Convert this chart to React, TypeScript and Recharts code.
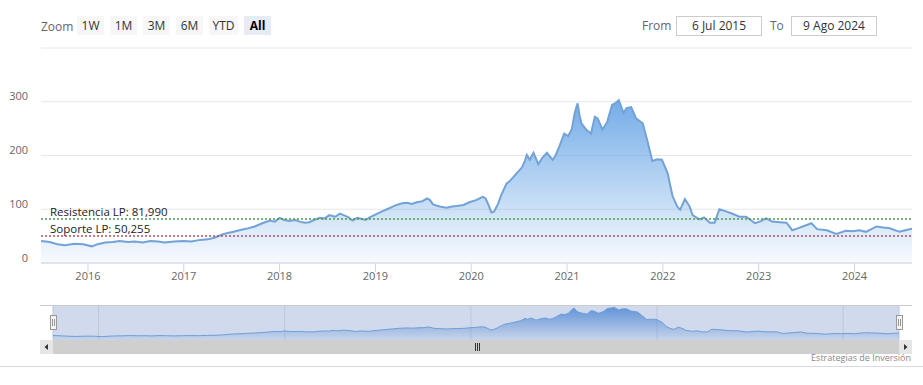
import { AreaChart, Area, XAxis, YAxis, CartesianGrid, ReferenceLine } from "recharts";

// fecha (año decimal) y cotización
const years = [
  2015.51, 2015.6, 2015.68, 2015.76, 2015.86, 2015.95, 2016.04, 2016.1, 2016.18, 2016.26,
  2016.33, 2016.42, 2016.49, 2016.57, 2016.65, 2016.73, 2016.8, 2016.9, 2017.0, 2017.08,
  2017.17, 2017.25, 2017.32, 2017.4, 2017.46, 2017.52, 2017.58, 2017.66, 2017.74, 2017.82,
  2017.9, 2017.95, 2018.0, 2018.05, 2018.1, 2018.16, 2018.21, 2018.26, 2018.31, 2018.36,
  2018.42, 2018.47, 2018.52, 2018.58, 2018.63, 2018.68, 2018.72, 2018.76, 2018.81, 2018.86,
  2018.9, 2018.94, 2019.01, 2019.07, 2019.12, 2019.17, 2019.22, 2019.28, 2019.33, 2019.38,
  2019.43, 2019.49, 2019.54, 2019.57, 2019.6, 2019.67, 2019.74, 2019.8, 2019.85, 2019.92,
  2019.98, 2020.05, 2020.12, 2020.15, 2020.18, 2020.21, 2020.24, 2020.28, 2020.31, 2020.34,
  2020.37, 2020.4, 2020.43, 2020.48, 2020.53, 2020.56, 2020.58, 2020.61, 2020.65, 2020.7,
  2020.74, 2020.79, 2020.85, 2020.88, 2020.92, 2020.97, 2021.01, 2021.05, 2021.08, 2021.11,
  2021.13, 2021.15, 2021.2, 2021.25, 2021.29, 2021.32, 2021.37, 2021.42, 2021.47, 2021.51,
  2021.54, 2021.59, 2021.62, 2021.67, 2021.72, 2021.79, 2021.84, 2021.89, 2021.94, 2021.99,
  2022.05, 2022.1, 2022.15, 2022.18, 2022.23, 2022.28, 2022.31, 2022.38, 2022.43, 2022.49,
  2022.54, 2022.59, 2022.66, 2022.72, 2022.8, 2022.87, 2022.96, 2023.01, 2023.08, 2023.14,
  2023.22, 2023.29, 2023.35, 2023.4, 2023.46, 2023.55, 2023.61, 2023.71, 2023.81, 2023.91,
  2023.98, 2024.05, 2024.12, 2024.23, 2024.3, 2024.36, 2024.47, 2024.53, 2024.6,
];

const prices = [
  41, 39, 35, 33, 36, 35, 31, 35, 38, 39,
  41, 39, 40, 38, 41, 40, 38, 40, 41, 40,
  43, 44, 47, 53, 56, 58, 61, 64, 68, 74,
  79, 77, 84, 80, 78, 80, 77, 75, 76, 80,
  84, 83, 89, 86, 92, 88, 85, 79, 84, 82,
  80, 85, 91, 96, 100, 104, 108, 111, 112, 110,
  113, 115, 120, 117, 109, 105, 103, 105, 106, 108,
  113, 117, 123, 120, 108, 94, 96, 110, 125, 137,
  148, 152, 158, 168, 178, 190, 201, 192, 205, 184,
  195, 205, 192, 200, 217, 241, 236, 249, 279, 297,
  275, 260, 248, 241, 272, 269, 248, 263, 294, 298,
  303, 279, 288, 290, 269, 260, 226, 190, 193, 192,
  167, 125, 105, 99, 119, 105, 89, 81, 85, 75,
  75, 100, 96, 92, 86, 86, 74, 77, 83, 77,
  76, 75, 61, 64, 68, 74, 63, 61, 54, 60,
  59, 61, 58, 68, 66, 65, 58, 61, 64,
];

const yearTicks = [2016, 2017, 2018, 2019, 2020, 2021, 2022, 2023, 2024];
const navTicks = [2016, 2018, 2020, 2022, 2024];
const priceTicks = [0, 100, 200, 300, 400];
const resistance = 81.99;
const support = 50.255;
const zoomButtons = ["1W", "1M", "3M", "6M", "YTD", "All"];
const fromDate = "6 Jul 2015";
const toDate = "9 Ago 2024";

const data = years.map((t, i) => ({ t, price: prices[i] }));
const font = '"Open Sans", sans-serif';
const fmt = (v: number) => v.toFixed(3).replace(".", ",");

const YTick = ({ y, payload }: any) => {
  if (payload.value === 400) return <g />;
  return (
    <text x={28} y={y - 1.5} textAnchor="end" fill="#666" fontSize={11} fontFamily={font}>
      {payload.value}
    </text>
  );
};

const XTick = ({ x, y, payload }: any) => (
  <text x={x} y={y + 6} textAnchor="middle" fill="#666" fontSize={11} fontFamily={font}>
    {payload.value}
  </text>
);

const NavTick = ({ x, payload }: any) => (
  <text x={x + 3} y={32} textAnchor="start" fill="#8a8a8a" fontSize={11} fontFamily={font}>
    {payload.value}
  </text>
);

const LineLabel = ({ viewBox, text }: any) => (
  <text x={viewBox.x + 9} y={viewBox.y - 3} fill="#222" fontSize={11.5} fontFamily={font}>
    {text}
  </text>
);

const btn = (label: string) => ({
  width: label === "YTD" ? 29 : 27,
  height: 19,
  lineHeight: "19px",
  textAlign: "center" as const,
  fontSize: 12,
  background: label === "All" ? "#e6ebf5" : "#f7f7f7",
  color: label === "All" ? "#000" : "#333",
  fontWeight: label === "All" ? 700 : 400,
});

const dateBox = {
  position: "absolute" as const,
  top: 16,
  width: 84,
  height: 18,
  lineHeight: "18px",
  border: "1px solid #cccccc",
  textAlign: "center" as const,
  fontSize: 12,
  color: "#333",
};

export default function App() {
  return (
    <div
      style={{
        position: "absolute",
        left: 0,
        top: 0,
        width: 923,
        height: 385,
        background: "#fff",
        fontFamily: font,
        overflow: "hidden",
      }}
    >
      {/* selector de rango */}
      <div style={{ position: "absolute", left: 41, top: 17, fontSize: 12, color: "#666", lineHeight: "19px" }}>
        Zoom
      </div>
      <div style={{ position: "absolute", left: 77, top: 16, display: "flex", gap: 6 }}>
        {zoomButtons.map((b) => (
          <div key={b} style={btn(b)}>
            {b}
          </div>
        ))}
      </div>
      <div style={{ position: "absolute", left: 642, top: 16, fontSize: 12, color: "#666", lineHeight: "19px" }}>
        From
      </div>
      <div style={{ ...dateBox, left: 676 }}>{fromDate}</div>
      <div style={{ position: "absolute", left: 770, top: 16, fontSize: 12, color: "#666", lineHeight: "19px" }}>
        To
      </div>
      <div style={{ ...dateBox, left: 791 }}>{toDate}</div>

      {/* gráfico principal */}
      <div style={{ position: "absolute", left: 0, top: 0 }}>
        <AreaChart width={923} height={290} data={data} margin={{ top: 48, right: 11, left: 0, bottom: 2 }}>
          <defs>
            <linearGradient id="mainFill" x1="0" y1="0" x2="0" y2="1">
              <stop offset="0%" stopColor="#74ace8" stopOpacity={1} />
              <stop offset="100%" stopColor="#74ace8" stopOpacity={0.05} />
            </linearGradient>
          </defs>
          <CartesianGrid vertical={false} stroke="#e6e6e6" />
          <XAxis
            dataKey="t"
            type="number"
            domain={[2015.51, 2024.6]}
            allowDataOverflow
            ticks={yearTicks}
            interval={0}
            height={25}
            stroke="#ccd6eb"
            tickSize={9}
            tickMargin={2}
            tick={<XTick />}
          />
          <YAxis
            domain={[0, 400]}
            ticks={priceTicks}
            interval={0}
            width={41}
            axisLine={false}
            tickLine={false}
            tick={<YTick />}
          />
          <Area
            type="linear"
            dataKey="price"
            stroke="#72a2d6"
            strokeWidth={2}
            fill="url(#mainFill)"
            fillOpacity={1}
            isAnimationActive={false}
            dot={false}
            activeDot={false}
          />
          <ReferenceLine
            y={resistance}
            stroke="#4f9a4f"
            strokeWidth={1.5}
            strokeDasharray="2 2"
            label={<LineLabel text={`Resistencia LP: ${fmt(resistance)}`} />}
          />
          <ReferenceLine
            y={support}
            stroke="#b0505f"
            strokeWidth={1.5}
            strokeDasharray="2 2"
            label={<LineLabel text={`Soporte LP: ${fmt(support)}`} />}
          />
        </AreaChart>
      </div>

      {/* navegador */}
      <div style={{ position: "absolute", left: 40, top: 305, width: 872, height: 1, background: "#cccccc" }} />
      <div style={{ position: "absolute", left: 53, top: 306, width: 846, height: 34, background: "#d1daed" }} />
      <div style={{ position: "absolute", left: 0, top: 305 }}>
        <AreaChart width={923} height={35} data={data} margin={{ top: 0, right: 24, left: 53, bottom: 0 }}>
          <defs>
            <linearGradient id="navFill" x1="0" y1="0" x2="0" y2="1">
              <stop offset="0%" stopColor="#5b90d6" stopOpacity={0.95} />
              <stop offset="100%" stopColor="#5b90d6" stopOpacity={0.08} />
            </linearGradient>
          </defs>
          <CartesianGrid horizontal={false} stroke="#bcc6dc" />
          <XAxis
            dataKey="t"
            type="number"
            domain={[2015.51, 2024.6]}
            allowDataOverflow
            ticks={navTicks}
            interval={0}
            height={0}
            axisLine={false}
            tickLine={false}
            tick={<NavTick />}
          />
          <YAxis hide domain={[0, 325]} />
          <Area
            type="linear"
            dataKey="price"
            stroke="#6f9ed6"
            strokeWidth={1}
            fill="url(#navFill)"
            fillOpacity={1}
            isAnimationActive={false}
            dot={false}
            activeDot={false}
          />
        </AreaChart>
      </div>

      <svg width={923} height={385} style={{ position: "absolute", left: 0, top: 0, pointerEvents: "none" }}>
        {/* asas del navegador */}
        {[50, 896].map((hx) => (
          <g key={hx}>
            <rect x={hx + 0.5} y={315.5} width={6} height={14} fill="#f2f2f2" stroke="#999" />
            <line x1={hx + 2.5} y1={319} x2={hx + 2.5} y2={326} stroke="#999" />
            <line x1={hx + 4.5} y1={319} x2={hx + 4.5} y2={326} stroke="#999" />
          </g>
        ))}
        {/* barra de desplazamiento */}
        <rect x={40} y={340} width={872} height={14} fill="#cfcfcf" />
        <rect x={40} y={340} width={13} height={14} fill="#e6e6e6" />
        <rect x={899} y={340} width={13} height={14} fill="#e6e6e6" />
        <path d="M48 344 L44.5 347 L48 350 Z" fill="#333" />
        <path d="M904 344 L907.5 347 L904 350 Z" fill="#333" />
        {[475, 477, 479].map((gx) => (
          <line key={gx} x1={gx + 0.5} y1={343} x2={gx + 0.5} y2={351} stroke="#333" />
        ))}
        <text x={911} y={361} textAnchor="end" fill="#888" fontSize={9} fontFamily={font}>
          Estrategias de Inversión
        </text>
        <line x1={0} y1={366.5} x2={923} y2={366.5} stroke="#d6d8e2" />
      </svg>
    </div>
  );
}
